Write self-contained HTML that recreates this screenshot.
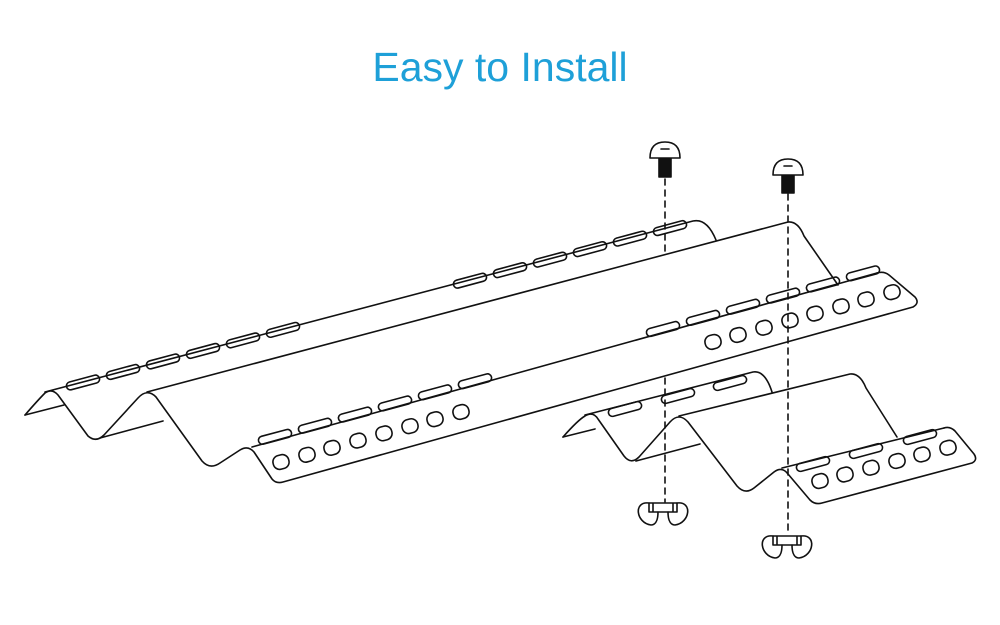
<!DOCTYPE html>
<html><head><meta charset="utf-8"><style>
html,body{margin:0;padding:0;background:#fff;}
#t{position:absolute;left:0;top:44px;width:1000px;text-align:center;font:41px "Liberation Sans",sans-serif;color:#1ea0d8;}
svg{position:absolute;left:0;top:0;}
</style></head><body>
<div id="t">Easy to Install</div>
<svg id="s" width="1000" height="625" viewBox="0 0 1000 625" fill="none" stroke="#111" stroke-width="1.6" stroke-linejoin="round" stroke-linecap="round">
<path fill="#fff" d="M25,415 Q38,400 45,393 Q52,388 58,395 L88,436 Q96,443 104,435 L138,398 Q147,388 156,397 L202,461 Q210,470 220,463 L240,450 Q248,445 254,452 L272,479 Q276,484 283,482 L913,307 Q920,303 915,297 L889,275 Q884,271 877,273"/>
<path d="M45,392 L693,221 Q707,218 716,240"/>
<path d="M147,392 L788,222 Q798,221 804,236 L838,285"/>
<path d="M252,447 L877,273"/>
<path d="M25,415 L64,405"/>
<path d="M100,438 L163,421"/>
<path fill="#fff" d="M563,437 Q578,420 585,416 Q593,411 598,419 L624,456 Q631,465 639,457 L670,422 Q679,412 688,422 L737,486 Q745,495 754,488 L774,472 Q782,466 788,474 L810,500 Q815,505 822,503 L972,463 Q978,460 974,454 L955,431 Q950,426 944,428"/>
<path d="M585,415 L753,372 Q765,370 772,392"/>
<path d="M679,416 L850,374 Q860,373 866,388 L897,437"/>
<path d="M782,468 L944,428"/>
<path d="M563,437 L595,429"/>
<path d="M636,461 L700,444"/>
<g id="g"></g>
<path stroke-dasharray="6,5" d="M665,179 L665,254 M665,378 L665,502 M788,194 L788,535"/>
<path fill="#111" d="M659,158 h12 v19 h-12z"/>
<path fill="#fff" d="M650,158 Q650,142 665,142 Q680,142 680,158 Z M661,149 h8"/>
<path fill="#111" d="M782,174 h12 v19 h-12z"/>
<path fill="#fff" d="M773,175 Q773,159 788,159 Q803,159 803,175 Z M784,166 h8"/>
<g transform="translate(663,503)">
<path d="M-14,0 h28 v9 h-28z M-10,0 v9 M10,0 v9"/>
<path d="M-14,0 C-30,-2 -27,20 -12,22 C-6,22 -5,14 -5,9"/>
<path d="M14,0 C30,-2 27,20 12,22 C6,22 5,14 5,9"/>
</g>
<g transform="translate(787,536)">
<path d="M-14,0 h28 v9 h-28z M-10,0 v9 M10,0 v9"/>
<path d="M-14,0 C-30,-2 -27,20 -12,22 C-6,22 -5,14 -5,9"/>
<path d="M14,0 C30,-2 27,20 12,22 C6,22 5,14 5,9"/>
</g>
</svg>
<script>
var g=document.getElementById('g'),h='';
function slot(cx,cy,w,ht,a){h+='<rect x="'+(cx-w/2)+'" y="'+(cy-ht/2)+'" width="'+w+'" height="'+ht+'" rx="4" transform="rotate('+a+' '+cx+' '+cy+')"/>';}
function hole(cx,cy){h+='<rect x="'+(cx-8)+'" y="'+(cy-7)+'" width="16" height="14" rx="6.5" transform="rotate(-15 '+cx+' '+cy+')"/>';}
[83,123,163,203,243,283,470,510,550,590,630,670].forEach(function(x){slot(x,392-0.263*(x-43)+1,34,8,-15);});
[275,315,355,395,435,475,663,703,743,783,823,863].forEach(function(x){slot(x,441-0.278*(x-260),34,8,-15);});
[281,307,332,358,384,410,435,461,713,738,764,790,815,841,866,892].forEach(function(x){hole(x,462-0.278*(x-281));});
slot(625,409,34,8,-15);slot(678,396,34,8,-15);slot(730,383,34,8,-15);
slot(813,464,34,8,-15);slot(866,451,34,8,-15);slot(920,437,34,8,-15);
[820,845,871,897,922,948].forEach(function(x){hole(x,481-0.26*(x-820));});
g.innerHTML=h;
</script>
</body></html>
